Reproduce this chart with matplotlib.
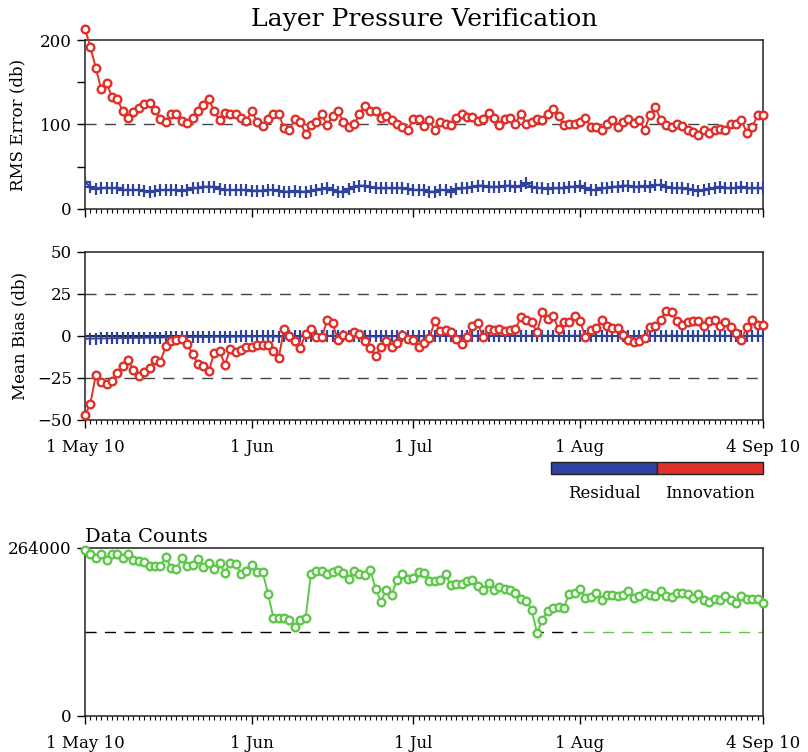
import matplotlib
matplotlib.use('Agg')
import matplotlib.pyplot as plt
import matplotlib.dates as mdates
import matplotlib.patches as mpatches
import numpy as np
import pandas as pd

plt.rcParams['font.family'] = ['DejaVu Serif']

# daily verification stats, 1 May - 4 Sep 2010
dates = pd.date_range('2010-05-01', '2010-09-04', freq='D')

rms_innov = [213, 192, 167, 142, 149, 133, 130, 116, 108, 115,
             120, 124, 126, 117, 107, 103, 112, 112, 104, 102,
             108, 116, 123, 130, 116, 105, 114, 112, 112, 108,
             104, 116, 103, 98, 107, 112, 112, 96, 94, 106,
             103, 89, 99, 103, 112, 99, 110, 116, 103, 97,
             100, 112, 122, 116, 116, 108, 110, 105, 101, 97,
             94, 106, 106, 98, 105, 93, 103, 100, 99, 108,
             112, 109, 109, 104, 106, 114, 108, 99, 107, 108,
             101, 113, 101, 103, 106, 105, 112, 118, 110, 99,
             101, 101, 103, 108, 97, 97, 94, 101, 105, 97,
             103, 106, 102, 105, 94, 111, 121, 105, 99, 97,
             101, 98, 93, 91, 88, 94, 90, 94, 95, 94,
             101, 101, 105, 90, 97, 111, 111]

rms_resid = [31.5, 26.4, 23.7, 24.5, 25.2, 24.5, 25.2, 22.5, 22.5, 22.5,
             22.5, 21.7, 20.5, 21.7, 22.5, 22.5, 22.5, 22.5, 21.7, 22.5,
             24.5, 24.5, 26.4, 26.4, 26.4, 23.7, 22.5, 22.5, 22.5, 22.5,
             22.5, 21.7, 21.7, 21.7, 22.5, 22.5, 21.7, 20.5, 20.5, 21.7,
             20.5, 20.5, 21.7, 22.5, 23.7, 24.5, 22.5, 20.5, 20.5, 23.3,
             26.4, 27.6, 27.6, 26.4, 24.5, 24.5, 24.5, 24.5, 24.5, 24.5,
             23.7, 22.5, 22.5, 22.5, 20.5, 20.5, 22.5, 22.5, 20.5, 23.7,
             24.5, 24.5, 26.4, 27.6, 27.6, 26.4, 26.4, 26.4, 27.6, 27.6,
             26.4, 27.6, 30.4, 26.4, 25.2, 24.5, 23.7, 24.5, 24.5, 24.5,
             26.4, 26.4, 27.6, 24.5, 22.5, 22.5, 24.5, 24.5, 26.4, 26.4,
             27.6, 27.6, 26.4, 26.4, 27.6, 26.4, 28.4, 28.4, 26.4, 24.5,
             24.5, 24.5, 23.7, 22.5, 21.7, 22.5, 23.7, 24.5, 26.4, 24.5,
             24.5, 24.5, 26.4, 24.5, 24.5, 24.5, 24.5]

bias_innov = [-47.3, -40.2, -23.4, -27.5, -28.5, -26.9, -22.0, -17.6, -14.5, -20.0,
              -23.6, -21.6, -19.0, -14.0, -15.4, -6.1, -3.2, -2.6, -1.8, -4.6,
              -11.0, -16.4, -18.0, -21.0, -10.0, -9.0, -17.0, -7.5, -9.5, -8.1,
              -6.5, -6.5, -5.1, -5.5, -5.5, -9.0, -13.0, 4.2, 0.2, -3.2,
              -7.1, 1.2, 4.2, -0.8, -0.8, 9.3, 7.7, -2.6, 0.8, -0.8,
              2.4, 1.4, -3.2, -7.1, -12.1, -6.5, -3.2, -6.5, -4.2, 0.8,
              -1.6, -2.6, -6.5, -4.2, -1.2, 8.7, 2.8, 3.4, 2.4, -1.6,
              -4.6, -0.8, 5.7, 7.7, -0.8, 4.2, 3.8, 4.2, 2.8, 3.8,
              4.2, 11.1, 9.7, 8.1, 2.2, 14.0, 10.3, 11.7, 4.2, 8.1,
              8.1, 12.1, 8.7, -0.8, 3.8, 4.8, 9.3, 6.1, 4.8, 4.8,
              0.8, -2.6, -3.6, -3.2, -1.2, 5.3, 6.1, 9.7, 15.0, 14.0,
              8.7, 6.7, 8.1, 9.1, 8.7, 5.7, 8.7, 9.3, 6.1, 8.1,
              5.3, 1.8, -2.2, 5.3, 9.3, 6.7, 6.7]

bias_resid = [-1.6, -1.5, -1.5, -1.4, -1.4, -1.3, -1.3, -1.2, -1.2, -1.1,
              -1.1, -1.0, -1.0, -0.9, -0.9, -0.8, -0.7, -0.7, -0.6, -0.6,
              -0.5, -0.5, -0.6, -0.5, -0.4, -0.4, -0.5, -0.4, -0.4, -0.3,
              -0.3, -0.3, -0.2, -0.2, -0.3, -0.3, -0.4, -0.1, -0.2, -0.2,
              -0.3, -0.1, 0.0, -0.1, -0.1, 0.1, 0.1, -0.1, 0.0, -0.1,
              0.0, 0.0, -0.1, -0.2, -0.3, -0.2, -0.1, -0.2, -0.1, 0.0,
              -0.1, -0.1, -0.2, -0.1, -0.1, 0.1, 0.0, 0.0, 0.0, -0.1,
              -0.1, 0.0, 0.1, 0.1, 0.0, 0.1, 0.0, 0.1, 0.0, 0.0,
              0.1, 0.2, 0.1, 0.1, 0.0, 0.2, 0.1, 0.2, 0.0, 0.1,
              0.1, 0.2, 0.1, 0.0, 0.0, 0.1, 0.1, 0.1, 0.0, 0.0,
              0.0, -0.1, -0.1, -0.1, 0.0, 0.1, 0.1, 0.1, 0.2, 0.2,
              0.1, 0.1, 0.1, 0.1, 0.1, 0.1, 0.1, 0.1, 0.1, 0.1,
              0.1, 0.0, -0.1, 0.1, 0.1, 0.1, 0.1]

counts = [261400, 255100, 248900, 254100, 244700, 255100, 255100, 247800, 254100, 245700,
          243600, 242100, 235800, 235800, 235800, 249900, 233200, 231600, 247800, 235800,
          237900, 247300, 234200, 241000, 230500, 240000, 224800, 241000, 238400, 223800,
          227900, 236800, 226400, 226400, 192400, 154700, 154700, 153200, 151600, 140100,
          151600, 154700, 223800, 227900, 227900, 223800, 226400, 230000, 224800, 215900,
          227900, 223800, 222200, 230000, 200200, 179300, 198700, 190800, 214300, 223800,
          215900, 217000, 226400, 224800, 211700, 211700, 213300, 222700, 205500, 208100,
          208100, 211700, 213300, 203900, 198700, 209100, 198700, 202800, 200200, 198700,
          193400, 184500, 180900, 167300, 130700, 151600, 164700, 168900, 171500, 170400,
          192400, 193400, 200200, 185600, 187200, 193400, 181900, 189800, 190800, 188200,
          190800, 196100, 185600, 188200, 193400, 189800, 188200, 196100, 188200, 187200,
          193400, 193400, 192400, 185600, 192400, 181900, 179300, 184500, 183000, 188200,
          183000, 177800, 188200, 184500, 184500, 184500, 177800]

count_max = 264000
count_ref = 132000

red = '#e0302a'
blue = '#2e43a0'
green = '#5ec84a'

major_days = pd.to_datetime(['2010-05-01', '2010-06-01', '2010-07-01', '2010-08-01', '2010-09-04'])
major_labels = ['1 May 10', '1 Jun', '1 Jul', '1 Aug', '4 Sep 10']

fig = plt.figure(figsize=(8.08, 7.52), dpi=100)
ax1 = fig.add_axes([0.1052, 0.7221, 0.8391, 0.2247])
ax2 = fig.add_axes([0.1052, 0.4415, 0.8391, 0.2234])
ax3 = fig.add_axes([0.1052, 0.0479, 0.8391, 0.2234])


def style_time_axis(ax, labels=True):
    ax.set_xlim(dates[0], dates[-1])
    ax.xaxis.set_major_locator(matplotlib.ticker.FixedLocator(mdates.date2num(major_days)))
    ax.xaxis.set_minor_locator(mdates.DayLocator())
    if labels:
        ax.set_xticklabels(major_labels)
    else:
        ax.set_xticklabels([])
    ax.tick_params(axis='x', which='major', length=6, width=1, labelsize=12, pad=8)
    ax.tick_params(axis='x', which='minor', length=3, width=0.8)
    ax.tick_params(axis='y', which='both', length=6, width=1, labelsize=12)
    for s in ax.spines.values():
        s.set_linewidth(1.1)
        s.set_color('#222222')


# RMS error
ax1.axhline(100, color='#444444', lw=1, dashes=(8, 6))
ax1.plot(dates, rms_resid, color=blue, lw=1.4, marker='+', ms=9, mew=1.6, zorder=3)
ax1.plot(dates, rms_innov, color=red, lw=1.4, marker='o', ms=5.5, mew=1.7,
         mfc='white', clip_on=False, zorder=4)
ax1.set_ylim(0, 200)
ax1.set_yticks([0, 100, 200])
ax1.set_yticks([50, 150], minor=True)
ax1.set_ylabel('RMS Error (db)', fontsize=12, labelpad=10)
style_time_axis(ax1, labels=False)
ax1.set_title('Layer Pressure Verification', fontsize=18, pad=10)

# mean bias
for yv in (25, -25):
    ax2.axhline(yv, color='#444444', lw=1, dashes=(8, 6))
ax2.axhline(0, color='black', lw=1.2, zorder=2)
ax2.plot(dates, bias_resid, color=blue, lw=1.4, marker='|', ms=9, mew=1.6, zorder=3)
ax2.plot(dates, bias_innov, color=red, lw=1.4, marker='o', ms=5.5, mew=1.7,
         mfc='white', clip_on=False, zorder=4)
ax2.set_ylim(-50, 50)
ax2.set_yticks([-50, -25, 0, 25, 50])
ax2.set_ylabel('Mean Bias (db)', fontsize=12, labelpad=6)
style_time_axis(ax2)

# legend bar
lax = fig.add_axes([0.682, 0.3697, 0.2624, 0.016])
lax.add_patch(mpatches.Rectangle((0, 0), 0.5, 1, facecolor=blue, edgecolor='#222222',
                                 lw=1, clip_on=False))
lax.add_patch(mpatches.Rectangle((0.5, 0), 0.5, 1, facecolor=red, edgecolor='#222222',
                                 lw=1, clip_on=False))
lax.set_xlim(0, 1)
lax.set_ylim(0, 1)
lax.axis('off')
lax.text(0.25, -0.9, 'Residual', ha='center', va='top', fontsize=12, transform=lax.transAxes)
lax.text(0.75, -0.9, 'Innovation', ha='center', va='top', fontsize=12, transform=lax.transAxes)

# data counts
split = pd.Timestamp('2010-07-31 12:00')
ax3.plot([dates[0], split], [count_ref, count_ref], color='black', lw=1, dashes=(8, 6))
ax3.plot([pd.Timestamp('2010-08-01 12:00'), dates[-1]], [count_ref, count_ref],
         color=green, lw=1, dashes=(8, 6))
ax3.plot(dates, counts, color=green, lw=1.4, marker='o', ms=5.5, mew=1.7,
         mfc='white', clip_on=False, zorder=4)
ax3.set_ylim(0, count_max)
ax3.set_yticks([0, count_max])
ax3.set_yticklabels(['0', str(count_max)])
style_time_axis(ax3)
ax3.set_title('Data Counts', fontsize=14, loc='left', pad=4)

fig.savefig('out.png', dpi=100)
